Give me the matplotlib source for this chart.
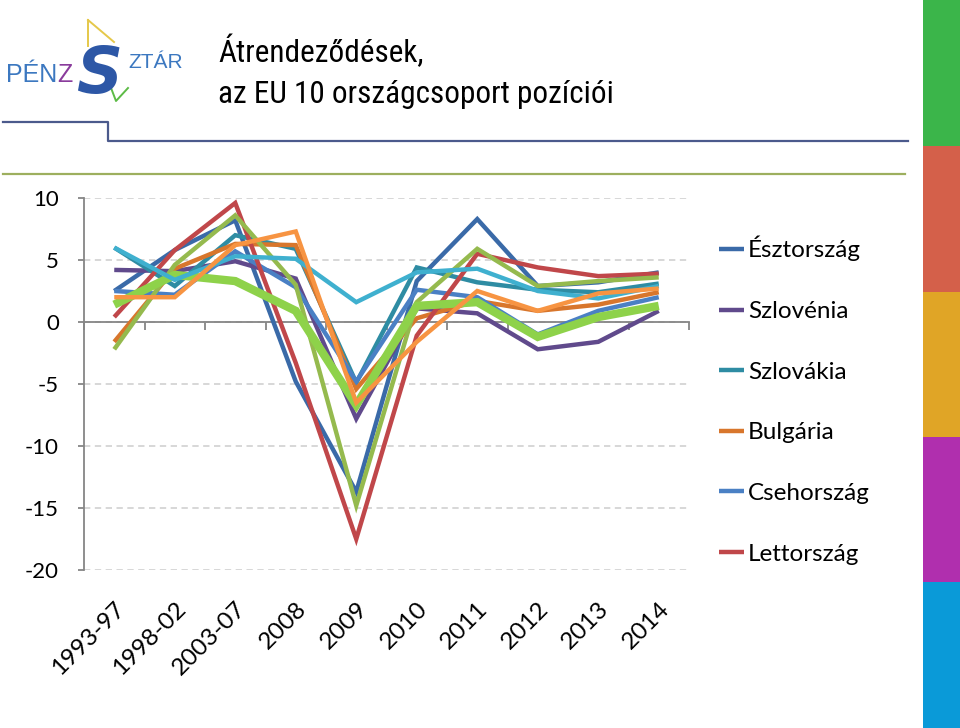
import numpy as np
import matplotlib
matplotlib.use("Agg")
import matplotlib.pyplot as plt
from matplotlib.patches import Rectangle
from matplotlib import font_manager

# ---------------- data ----------------
categories = ["1993-97", "1998-02", "2003-07", "2008", "2009", "2010", "2011", "2012", "2013", "2014"]

esztorszag    = [2.5, 5.8, 8.2, -4.8, -13.7, 3.3, 8.3, 2.9, 3.2, 4.0]
szlovenia     = [4.2, 4.1, 4.9, 3.5, -7.8, 1.1, 0.7, -2.2, -1.6, 0.9]
szlovakia     = [6.0, 2.9, 7.0, 5.9, -4.9, 4.4, 3.2, 2.6, 2.4, 3.1]
bulgaria      = [-1.6, 4.3, 6.3, 6.2, -5.4, 0.3, 1.7, 0.9, 1.4, 2.4]
csehorszag    = [2.5, 2.2, 5.7, 2.8, -4.8, 2.6, 2.0, -1.0, 0.9, 2.0]
lettorszag    = [0.4, 5.8, 9.6, -3.3, -17.5, -1.1, 5.5, 4.4, 3.7, 3.9]
litvania      = [-2.2, 4.6, 8.6, 3.0, -14.8, 1.6, 5.9, 2.9, 3.3, 3.6]
magyarorszag  = [1.4, 3.8, 3.3, 0.9, -6.7, 1.3, 1.6, -1.2, 0.4, 1.3]
lengyelorszag = [6.0, 3.4, 5.3, 5.1, 1.6, 4.0, 4.3, 2.5, 1.9, 2.9]
romania       = [2.0, 2.0, 6.2, 7.3, -6.5, -1.6, 2.5, 0.9, 2.3, 2.7]

series_names = ["Észtország", "Szlovénia", "Szlovákia", "Bulgária", "Csehország",
                "Lettország", "Litvánia", "Magyarország", "Lengyelország", "Románia"]
series_values = [esztorszag, szlovenia, szlovakia, bulgaria, csehorszag,
                 lettorszag, litvania, magyarorszag, lengyelorszag, romania]
series_colors = ["#3A6AA8", "#604A8C", "#2E8CA3", "#D8762C", "#4A80C4",
                 "#C0474A", "#95BA4E", "#8ED24A", "#3FB0CF", "#F79442"]
series_widths = [3.2, 3.2, 3.2, 3.2, 3.2, 3.2, 3.2, 6.0, 3.2, 3.2]
legend_count = 6

title_lines = ["Átrendeződések,", "az EU 10 országcsoport pozíciói"]
yticks = [-20, -15, -10, -5, 0, 5, 10]

# ---------------- fonts ----------------
installed = {f.name: f for f in font_manager.fontManager.ttflist}
narrow = None
for cand in ["Liberation Sans Narrow", "Arial Narrow", "Roboto Condensed",
             "Open Sans Condensed", "DejaVu Sans Condensed"]:
    if cand in installed:
        narrow = cand
        break
title_kw = {}
if narrow is not None:
    title_kw = dict(family=[narrow, "DejaVu Sans"], fontsize=22.5)
else:
    cond = [f for f in font_manager.fontManager.ttflist
            if str(f.stretch) in ("condensed", "semi-condensed", "extra-condensed")
            and f.style == "normal" and f.weight in (400, "normal", "regular")]
    if cond:
        title_kw = dict(family=[cond[0].name, "DejaVu Sans"], stretch=cond[0].stretch,
                        fontsize=22.5)
    else:
        title_kw = dict(family=["Liberation Sans", "DejaVu Sans"], fontsize=21)

# ---------------- figure ----------------
W, H = 960, 728
fig = plt.figure(figsize=(W / 100, H / 100), dpi=100)
fig.patch.set_facecolor("white")

def fx(px):
    return px / W

def fy(py):
    return 1 - py / H

ax = fig.add_axes([fx(84), fy(570), fx(689 - 84), (570 - 198) / H])
ax.set_xlim(-0.5, len(categories) - 0.5)
ax.set_ylim(-20, 10)

x = np.arange(len(categories))
handles = []
for name, vals, col, lw in zip(series_names, series_values, series_colors, series_widths):
    h, = ax.plot(x, vals, color=col, lw=lw, solid_joinstyle="miter", solid_capstyle="butt",
                 label=name, zorder=3)
    handles.append(h)

for s in ["top", "right"]:
    ax.spines[s].set_visible(False)
ax.spines["left"].set_color("#868686")
ax.spines["left"].set_linewidth(1.3)
ax.spines["bottom"].set_position(("data", 0))
ax.spines["bottom"].set_color("#868686")
ax.spines["bottom"].set_linewidth(1.3)

tick_fam = ["Lato", "DejaVu Sans"]
ax.set_yticks(yticks)
ax.set_yticklabels([str(t) for t in yticks], fontsize=16, family=tick_fam)
ax.tick_params(axis="y", length=4, width=1.3, color="#868686", pad=14)
ax.set_xticks(np.arange(-0.5, len(categories), 1.0))
ax.set_xticklabels([])
ax.tick_params(axis="x", length=6, width=1.3, color="#868686", direction="out")

ax.yaxis.grid(True, linestyle=(0, (3.5, 2.5)), color="#D4D4D4", linewidth=1.3, zorder=0)
ax.set_axisbelow(True)

for i, lab in enumerate(categories):
    ax.text(i + 0.0, -0.075, lab, transform=ax.get_xaxis_transform(), rotation=45,
            rotation_mode="anchor", ha="right", va="top", fontsize=17.5,
            family=tick_fam, color="black")

leg = fig.legend(handles[:legend_count], series_names[:legend_count], loc="upper left",
                 bbox_to_anchor=(fx(697), fy(214)), frameon=False, handlelength=1.05,
                 handletextpad=0.15, labelspacing=1.63,
                 prop={"family": tick_fam, "size": 17.5})

# ---------------- slide decoration ----------------
deco = fig.add_axes([0, 0, 1, 1], zorder=-1)
deco.set_xlim(0, W)
deco.set_ylim(H, 0)
deco.axis("off")

bar_cols = ["#3BB54A", "#D4604A", "#E0A526", "#B02FAE", "#0A9AD8"]
bar_edges = [0, 146, 292, 437, 582, 728]
for c, y0, y1 in zip(bar_cols, bar_edges[:-1], bar_edges[1:]):
    deco.add_patch(Rectangle((923, y0), 37, y1 - y0, color=c, lw=0))

deco.plot([3, 108, 108, 908], [122, 122, 141, 141], color="#4B5A8C", lw=1.6)
deco.plot([3, 905], [174, 174], color="#9DAF5E", lw=1.6)

deco.text(218, 62, title_lines[0], va="baseline", ha="left", **title_kw)
deco.text(218, 103, title_lines[1], va="baseline", ha="left", **title_kw)

# logo (approximation)
logo_fam = ["Liberation Sans", "DejaVu Sans"]
deco.plot([88, 88], [20, 46], color="#E5C84A", lw=1.4)
deco.plot([88, 114], [20, 42], color="#E5C84A", lw=1.4)
deco.plot([108, 116, 128], [80, 101, 88], color="#5DBB46", lw=1.4)
deco.text(6, 82, "PÉN", fontsize=18, family=logo_fam, color="#3C78C0", va="baseline")
deco.text(57, 82, "Z", fontsize=18, family=logo_fam, color="#8A3C9C", va="baseline")
deco.text(76, 93, "S", fontsize=46, family=["DejaVu Sans"], style="italic", weight="bold",
          color="#2D57A6", va="baseline")
deco.text(128, 68, "ZTÁR", fontsize=15, family=logo_fam, color="#3C78C0", va="baseline")

fig.savefig("out.png", dpi=100, facecolor="white")
